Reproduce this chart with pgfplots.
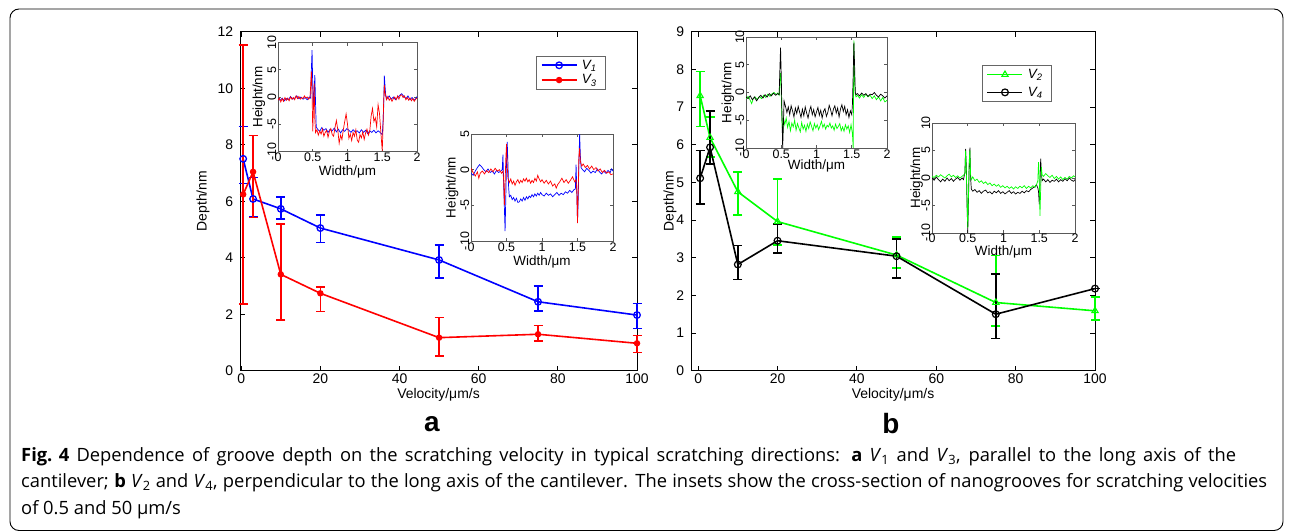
\documentclass[border=0pt]{standalone}
\usepackage{pgfplots}
\usepackage{pgfplotstable}
\pgfplotsset{compat=1.18}
\usepackage{fontspec}
\setmainfont{Liberation Sans}
\newfontfamily\capfont{Open Sans}

\pgfplotstableread{
x y ep em
0.5 7.50 1.15 0.87
3 6.08 0.76 0.64
10 5.73 0.41 0.37
20 5.05 0.47 0.51
50 3.92 0.54 0.63
75 2.44 0.55 0.32
100 1.97 0.41 0.47
}\vone
\pgfplotstableread{
x y ep em
0.5 6.24 5.28 3.88
3 7.04 1.28 1.62
10 3.41 1.78 1.62
20 2.74 0.22 0.65
50 1.17 0.71 0.64
75 1.29 0.31 0.24
100 0.97 0.28 0.32
}\vthree
\pgfplotstableread{
x y ep em
0.5 7.30 0.64 0.82
3 6.19 0.54 0.51
10 4.75 0.52 0.61
20 3.96 1.13 0.62
50 3.07 0.48 0.34
75 1.81 1.25 0.62
100 1.59 0.36 0.24
}\vtwo
\pgfplotstableread{
x y ep em
0.5 5.11 0.74 0.68
3 5.93 0.97 0.45
10 2.82 0.50 0.40
20 3.45 0.44 0.33
50 3.04 0.45 0.58
75 1.50 1.07 0.64
100 2.18 0 0
}\vfour

\pgfplotsset{
  mainax/.style={
    scale only axis, height=339bp,
    /pgf/number format/assume math mode=true,
    axis line style={line width=0.9bp},
    every tick/.style={black, line width=0.8bp},
    major tick length=5bp,
    tick align=inside,
    ticklabel style={font=\fontsize{14}{14}\selectfont},
    yticklabel style={xshift=-3.4bp},
    label style={font=\fontsize{14}{14}\selectfont},
    xlabel={Velocity/μm/s},
    ylabel={Depth/nm},
    xlabel style={at={(axis description cs:0.5,-0.0717)}, anchor=center},
    ymin=0, xmax=100,
    xtick={0,20,...,100},
    clip=false,
    legend image code/.code={\draw[mark repeat=2,mark phase=2,##1] plot coordinates {(0bp,0bp) (17.5bp,0bp) (35bp,0bp)};},
    legend cell align=left,
  },
  ebar/.style={error bars/.cd, y dir=both, y explicit,
    error bar style={line width=1.6bp},
    error mark options={rotate=90, line width=1.6bp, mark size=4.5bp}},
  inax/.style={
    scale only axis,
    /pgf/number format/assume math mode=true,
    axis background/.style={fill=white},
    axis line style={draw=black!65, line width=0.6bp},
    every tick/.style={black!65, line width=0.6bp},
    major tick length=3bp,
    tick align=inside,
    xmin=0, xmax=2, xtick={0,0.5,1,1.5,2},
    ticklabel style={font=\fontsize{12.5}{12.5}\selectfont, inner sep=1.5bp},
    yticklabel style={rotate=90, anchor=south},
    label style={font=\fontsize{13.5}{13.5}\selectfont},
    xlabel={Width/μm}, ylabel={Height/nm},
  },
  pr/.style={line width=0.7bp, no marks},
}

\begin{document}
\begin{tikzpicture}
\useasboundingbox (0bp,0bp) rectangle (1293bp,-532bp);
\draw[line width=0.9bp, rounded corners=9bp] (10bp,-9bp) rectangle (1283bp,-530.5bp);

% ---------------- panel a ----------------
\begin{axis}[mainax, at={(240bp,-370.7bp)}, anchor=south west, width=397bp,
  xmin=-0.3, ymax=12, ytick={0,2,...,12},
  ylabel style={at={(axis description cs:-0.0932,0.5)}, anchor=center},
  legend style={at={(axis description cs:0.7456,0.928)}, anchor=north west,
    draw=black!60, line width=0.6bp, font=\fontsize{13.5}{13.5}\selectfont,
    inner xsep=4.5bp, inner ysep=1.5bp, row sep=0bp,
    nodes={inner xsep=4.5bp, inner ysep=2bp}},
  ]
\addplot[blue, line width=1.6bp, mark=o, mark options={solid, line width=1.3bp, mark size=3.3bp}, ebar]
  table[x=x, y=y, y error plus=ep, y error minus=em] {\vone};
\addlegendentry{\textit{V\textsubscript{1}}}
\addplot[red, line width=1.6bp, mark=*, mark options={solid, mark size=2.4bp}, ebar]
  table[x=x, y=y, y error plus=ep, y error minus=em] {\vthree};
\addlegendentry{\textit{V\textsubscript{3}}}
\end{axis}

% inset a1
\begin{axis}[inax, at={(278bp,-42.5bp)}, anchor=north west, width=139bp, height=109bp,
  ymin=-10, ymax=10, ytick={-10,-5,0,5,10},
  ylabel style={at={(axis description cs:-0.137,0.5)}, anchor=center},
  xlabel style={at={(axis description cs:0.5,-0.183)}, anchor=center}]
\addplot[blue, pr] table {
0.00 -0.3
0.03 -0.6
0.06 -0.2
0.09 -0.7
0.12 -0.3
0.15 -0.5
0.18 0.1
0.21 -0.4
0.24 -0.2
0.27 0.2
0.30 -0.3
0.33 0.0
0.36 -0.4
0.39 -0.1
0.42 -0.5
0.45 0.0
0.47 -0.2
0.48 5.0
0.49 8.6
0.50 2.0
0.51 -2.0
0.52 1.0
0.53 4.0
0.54 -1.0
0.55 -5.5
0.57 -5.9
0.60 -6.3
0.63 -5.6
0.66 -6.1
0.69 -5.8
0.72 -6.5
0.75 -5.9
0.78 -6.2
0.81 -5.7
0.84 -6.4
0.87 -5.9
0.90 -6.6
0.93 -6.0
0.96 -6.3
0.99 -5.8
1.02 -6.1
1.05 -6.5
1.08 -6.0
1.11 -6.4
1.14 -6.2
1.17 -6.6
1.20 -6.0
1.23 -6.5
1.26 -6.1
1.29 -6.7
1.32 -6.2
1.35 -6.5
1.38 -6.1
1.41 -6.6
1.44 -6.2
1.47 -6.5
1.50 -6.9
1.51 -5.0
1.52 -2.0
1.53 3.9
1.54 2.0
1.55 0.3
1.57 -0.3
1.60 0.2
1.63 -0.4
1.66 0.0
1.69 -0.5
1.72 -0.1
1.75 0.3
1.78 0.6
1.81 0.1
1.84 -0.3
1.87 0.2
1.90 -0.5
1.93 -0.1
1.96 -0.6
1.99 -0.2
2.00 0.1
};
\addplot[red, pr] table {
0.00 -0.6
0.02 -0.2
0.04 -0.9
0.06 -0.3
0.08 -0.8
0.10 -0.1
0.12 -0.6
0.14 -0.2
0.16 -0.7
0.18 0.0
0.20 -0.4
0.22 -0.1
0.24 -0.5
0.26 0.2
0.28 -0.3
0.30 0.1
0.32 -0.4
0.34 -0.1
0.36 -0.3
0.38 0.2
0.40 -0.2
0.42 0.0
0.44 -0.4
0.46 -0.1
0.47 2.0
0.48 4.7
0.49 1.0
0.50 -6.3
0.51 -2.0
0.52 2.5
0.53 -4.0
0.54 -6.5
0.56 -6.0
0.58 -7.0
0.60 -6.2
0.62 -6.8
0.64 -5.9
0.66 -7.2
0.68 -6.5
0.70 -6.1
0.72 -7.4
0.74 -6.3
0.76 -5.8
0.78 -6.9
0.80 -7.2
0.82 -5.6
0.84 -4.3
0.86 -6.0
0.88 -8.5
0.90 -7.0
0.92 -7.8
0.94 -6.0
0.96 -4.5
0.98 -3.1
1.00 -5.0
1.02 -7.6
1.04 -6.8
1.06 -8.0
1.08 -6.5
1.10 -7.2
1.12 -6.0
1.14 -7.9
1.16 -8.3
1.18 -6.9
1.20 -7.5
1.22 -6.4
1.24 -7.8
1.26 -6.6
1.28 -5.9
1.30 -7.0
1.32 -6.3
1.34 -3.5
1.36 -2.1
1.38 -4.5
1.40 -3.8
1.42 -5.5
1.44 -1.4
1.46 -3.0
1.48 -6.5
1.50 -9.9
1.51 -6.0
1.52 -1.0
1.53 2.2
1.54 0.8
1.56 -0.5
1.58 0.1
1.60 -0.6
1.62 -0.2
1.64 -0.8
1.66 -0.3
1.68 0.0
1.70 -0.5
1.72 0.2
1.74 -0.4
1.76 0.3
1.78 0.4
1.80 -0.1
1.82 0.2
1.84 -0.5
1.86 -0.1
1.88 -0.6
1.90 -0.2
1.92 -0.7
1.94 -0.3
1.96 -0.8
1.98 -0.4
2.00 -0.2
};
\end{axis}

% inset a2
\begin{axis}[inax, at={(471bp,-134bp)}, anchor=north west, width=142bp, height=107bp,
  ymin=-10, ymax=5, ytick={-10,-5,0,5},
  ylabel style={at={(axis description cs:-0.132,0.5)}, anchor=center},
  xlabel style={at={(axis description cs:0.5,-0.193)}, anchor=center}]
\addplot[blue, pr] table {
0.00 -0.5
0.03 -0.8
0.06 -0.2
0.09 0.3
0.12 0.7
0.15 0.4
0.18 0.0
0.21 -0.3
0.24 0.1
0.27 -0.4
0.30 -0.2
0.33 -0.6
0.36 -0.1
0.39 -0.4
0.42 -0.2
0.44 0.0
0.45 2.1
0.46 -2.0
0.48 -8.6
0.49 -4.0
0.50 1.0
0.51 3.9
0.52 1.0
0.53 -2.5
0.54 -3.8
0.56 -3.6
0.58 -4.2
0.60 -3.9
0.62 -4.4
0.64 -4.0
0.66 -4.6
0.68 -4.5
0.70 -4.1
0.72 -4.4
0.74 -3.9
0.76 -4.3
0.78 -3.8
0.80 -4.1
0.82 -3.7
0.84 -3.9
0.86 -3.5
0.88 -3.8
0.90 -3.4
0.92 -3.7
0.94 -3.3
0.96 -3.6
0.98 -3.2
1.00 -3.5
1.03 -3.7
1.06 -3.3
1.09 -3.6
1.12 -3.4
1.15 -3.8
1.18 -3.5
1.21 -3.2
1.24 -3.6
1.27 -3.3
1.30 -3.5
1.33 -3.1
1.36 -3.3
1.39 -2.9
1.42 -3.2
1.45 -2.8
1.47 -2.7
1.48 0.7
1.49 -3.0
1.50 -7.4
1.51 -4.0
1.52 1.0
1.53 5.0
1.54 2.0
1.55 0.3
1.57 0.0
1.60 -0.3
1.63 0.2
1.66 -0.1
1.69 -0.5
1.72 -0.2
1.75 -0.4
1.78 0.1
1.81 -0.3
1.84 -0.6
1.87 -0.2
1.90 -0.5
1.93 -0.1
1.96 -0.4
1.98 0.1
2.00 -0.2
};
\addplot[red, pr] table {
0.00 0.2
0.03 -0.4
0.06 -0.9
0.09 -0.3
0.11 -1.2
0.13 -0.5
0.16 -0.2
0.19 -0.6
0.22 -0.1
0.25 -0.4
0.28 0.1
0.31 -0.3
0.34 0.2
0.37 -0.2
0.40 0.0
0.43 -0.5
0.45 -0.2
0.46 -1.5
0.47 -5.0
0.48 -2.0
0.49 1.5
0.50 3.6
0.51 0.5
0.52 -1.2
0.54 -1.8
0.56 -1.3
0.58 -2.0
0.60 -1.6
0.62 -2.2
0.64 -1.7
0.66 -1.4
0.68 -1.9
0.70 -1.5
0.72 -1.8
0.74 -1.3
0.76 -1.6
0.78 -1.2
0.80 -1.7
0.82 -1.4
0.84 -1.9
0.86 -1.5
0.88 -1.8
0.90 -1.2
0.92 -1.6
0.94 -0.8
0.96 -1.3
0.98 -1.7
1.00 -1.4
1.03 -1.9
1.06 -1.5
1.09 -2.0
1.12 -1.6
1.15 -2.3
1.18 -2.0
1.20 -2.6
1.22 -2.1
1.25 -1.7
1.28 -1.2
1.31 -1.8
1.34 -1.4
1.37 -1.9
1.40 -1.5
1.43 -1.0
1.46 -1.7
1.48 -1.4
1.49 -3.0
1.50 -7.5
1.51 -3.0
1.52 2.0
1.53 3.0
1.54 1.2
1.56 0.5
1.58 0.8
1.61 0.3
1.64 0.6
1.67 0.1
1.70 0.5
1.73 0.0
1.76 0.3
1.79 -0.2
1.82 0.1
1.85 -0.4
1.88 -0.1
1.91 -0.5
1.94 -0.3
1.97 -0.7
2.00 -0.6
};
\end{axis}

% ---------------- panel b ----------------
\begin{axis}[mainax, at={(691bp,-370.7bp)}, anchor=south west, width=404bp,
  xmin=-1.8, ymax=9, ytick={0,1,...,9},
  ylabel style={at={(axis description cs:-0.052,0.5)}, anchor=center},
  legend style={at={(axis description cs:0.720,0.902)}, anchor=north west,
    draw=black!60, line width=0.6bp, font=\fontsize{13.5}{13.5}\selectfont,
    inner xsep=4.5bp, inner ysep=2bp, row sep=3bp,
    nodes={inner xsep=4.5bp, inner ysep=2bp}},
  ]
\addplot[green, line width=1.6bp, mark=triangle, mark options={solid, line width=1.1bp, mark size=3.6bp}, ebar]
  table[x=x, y=y, y error plus=ep, y error minus=em] {\vtwo};
\addlegendentry{\textit{V\textsubscript{2}}}
\addplot[black, line width=1.6bp, mark=o, mark options={solid, line width=1.2bp, mark size=3.4bp}, ebar]
  table[x=x, y=y, y error plus=ep, y error minus=em] {\vfour};
\addlegendentry{\textit{V\textsubscript{4}}}
\end{axis}

% inset b1
\begin{axis}[inax, at={(746bp,-37bp)}, anchor=north west, width=141bp, height=111bp,
  ymin=-10, ymax=10, ytick={-10,-5,0,5,10},
  ylabel style={at={(axis description cs:-0.128,0.5)}, anchor=center},
  xlabel style={at={(axis description cs:0.5,-0.162)}, anchor=center}]
\addplot[green, pr] table {
0.00 -1.1
0.03 -0.7
0.06 -1.4
0.08 -2.0
0.10 -1.2
0.13 -0.8
0.16 -1.3
0.19 -0.7
0.22 -1.1
0.25 -0.5
0.28 -0.9
0.31 -0.3
0.34 -0.7
0.37 -0.2
0.40 0.0
0.43 -0.4
0.45 -0.1
0.47 -0.5
0.48 2.0
0.49 3.5
0.50 0.0
0.51 -5.0
0.52 -7.5
0.53 -4.5
0.55 -5.8
0.57 -4.6
0.59 -6.3
0.61 -5.2
0.63 -6.9
0.65 -5.5
0.67 -6.2
0.69 -5.0
0.71 -6.8
0.73 -5.6
0.75 -6.4
0.77 -7.1
0.79 -5.4
0.81 -6.6
0.83 -5.9
0.85 -7.0
0.87 -5.7
0.89 -6.5
0.91 -5.3
0.93 -6.1
0.95 -6.9
0.97 -5.6
0.99 -6.4
1.01 -5.8
1.03 -6.7
1.05 -6.0
1.07 -5.2
1.09 -6.3
1.11 -5.7
1.13 -6.6
1.15 -5.9
1.17 -6.2
1.19 -5.5
1.21 -6.4
1.23 -6.0
1.25 -6.8
1.27 -5.7
1.29 -6.5
1.31 -6.1
1.33 -5.6
1.35 -6.9
1.37 -6.2
1.39 -7.0
1.41 -5.8
1.43 -6.6
1.45 -6.0
1.47 -7.2
1.49 -5.8
1.51 -7.5
1.52 -10.0
1.53 9.4
1.54 2.0
1.55 -0.3
1.56 -0.8
1.58 -0.5
1.61 -1.0
1.64 -0.4
1.67 -0.9
1.70 -0.3
1.73 -0.8
1.76 -0.5
1.79 -1.1
1.82 -0.6
1.85 -1.3
1.88 -0.8
1.91 -1.5
1.94 -0.9
1.97 -1.7
2.00 -1.4
};
\addplot[black, pr] table {
0.00 -0.8
0.03 -1.1
0.06 -0.6
0.09 -1.3
0.12 -0.8
0.15 -1.5
0.18 -0.9
0.21 -0.5
0.24 -1.0
0.27 -0.4
0.30 -0.8
0.33 -0.2
0.36 -0.6
0.39 -0.1
0.42 -0.5
0.45 -0.2
0.47 -0.4
0.48 4.0
0.49 8.1
0.50 3.0
0.51 -4.0
0.52 -10.0
0.53 -6.0
0.54 -1.5
0.56 -2.5
0.58 -3.6
0.60 -2.6
0.62 -4.0
0.64 -2.4
0.66 -3.3
0.68 -4.4
0.70 -2.8
0.72 -3.8
0.74 -2.5
0.76 -3.5
0.78 -4.5
0.80 -3.0
0.82 -4.2
0.84 -2.6
0.86 -3.7
0.88 -4.6
0.90 -3.3
0.92 -2.5
0.94 -4.0
0.96 -3.1
0.98 -4.4
1.00 -3.5
1.02 -2.7
1.04 -4.1
1.06 -3.2
1.08 -4.6
1.10 -3.4
1.12 -2.9
1.14 -4.3
1.16 -3.6
1.18 -2.3
1.20 -3.1
1.22 -4.2
1.24 -3.0
1.26 -2.4
1.28 -3.7
1.30 -2.8
1.32 -4.4
1.34 -3.0
1.36 -2.2
1.38 -3.4
1.40 -2.5
1.42 -4.0
1.44 -3.1
1.46 -4.5
1.48 -3.3
1.50 -4.0
1.51 -2.0
1.52 3.0
1.53 9.0
1.54 5.0
1.55 0.0
1.56 -0.4
1.58 -0.2
1.61 -0.6
1.64 -0.1
1.67 -0.5
1.70 -0.2
1.73 -0.7
1.76 -0.3
1.79 -0.4
1.82 0.0
1.85 -0.5
1.88 -0.8
1.91 -0.3
1.94 -0.6
1.97 -1.0
2.00 -0.6
};
\end{axis}

% inset b2
\begin{axis}[inax, at={(932bp,-123bp)}, anchor=north west, width=143bp, height=110bp,
  ymin=-10, ymax=10, ytick={-10,-5,0,5,10},
  xticklabel style={inner sep=0.8bp},
  ylabel style={at={(axis description cs:-0.107,0.5)}, anchor=center},
  xlabel style={at={(axis description cs:0.5,-0.175)}, anchor=center}]
\addplot[black, pr] table {
0.00 0.0
0.03 -0.4
0.06 0.2
0.09 -0.3
0.12 -0.7
0.15 -0.2
0.18 -0.6
0.21 0.0
0.24 -0.5
0.27 -0.1
0.30 -0.6
0.33 -0.2
0.36 0.1
0.39 -0.4
0.42 0.0
0.44 -0.3
0.46 1.0
0.47 5.3
0.48 2.0
0.49 -5.0
0.50 -10.0
0.51 -4.0
0.52 2.0
0.53 5.5
0.54 0.0
0.55 -2.0
0.57 -2.4
0.60 -2.1
0.63 -2.6
0.66 -2.3
0.69 -2.8
0.72 -2.4
0.75 -2.2
0.78 -2.7
0.81 -2.5
0.84 -2.9
0.87 -2.4
0.90 -2.7
0.93 -2.3
0.96 -2.8
0.99 -2.5
1.02 -2.9
1.05 -2.6
1.08 -2.3
1.11 -2.8
1.14 -2.5
1.17 -2.9
1.20 -2.6
1.23 -2.8
1.26 -2.4
1.29 -2.7
1.32 -2.3
1.35 -2.5
1.38 -2.1
1.41 -1.8
1.44 -1.6
1.46 -1.2
1.48 -1.8
1.49 -2.5
1.50 -4.8
1.51 -1.0
1.52 3.5
1.53 1.0
1.54 -0.5
1.56 -0.2
1.59 -0.7
1.62 -0.3
1.65 -0.8
1.68 -0.4
1.71 -0.6
1.74 -0.2
1.77 -0.7
1.80 -0.3
1.83 -0.6
1.86 -0.1
1.89 -0.5
1.92 0.0
1.95 -0.4
1.98 -0.6
2.00 -0.3
};
\addplot[green, pr] table {
0.00 0.3
0.03 0.1
0.06 0.5
0.09 0.2
0.12 0.6
0.15 0.3
0.18 0.0
0.21 0.4
0.24 0.7
0.27 0.2
0.30 0.5
0.33 0.1
0.36 0.4
0.39 0.0
0.42 0.3
0.44 0.5
0.46 0.8
0.47 5.0
0.48 1.0
0.49 -4.0
0.50 -9.0
0.51 -3.0
0.52 3.0
0.53 5.0
0.54 0.5
0.55 -0.3
0.57 0.2
0.60 -0.5
0.63 -0.2
0.66 -0.8
0.69 -0.5
0.72 -1.0
0.75 -0.7
0.78 -1.2
0.81 -0.9
0.84 -1.4
0.87 -1.1
0.90 -1.5
0.93 -1.2
0.96 -1.7
0.99 -1.4
1.02 -1.8
1.05 -1.5
1.08 -1.9
1.11 -1.6
1.14 -2.0
1.17 -1.6
1.20 -1.9
1.23 -1.5
1.26 -1.8
1.29 -1.4
1.32 -1.9
1.35 -1.5
1.38 -1.8
1.41 -1.4
1.44 -1.7
1.46 -1.3
1.48 -0.5
1.49 2.9
1.50 0.0
1.51 -6.9
1.52 -2.0
1.53 2.0
1.54 0.6
1.56 0.3
1.59 0.8
1.62 0.4
1.65 0.1
1.68 0.5
1.71 -0.1
1.74 0.3
1.77 -0.2
1.80 0.2
1.83 -0.3
1.86 0.1
1.89 -0.2
1.92 0.3
1.95 0.0
1.98 0.4
2.00 0.2
};
\end{axis}

\node[font=\fontsize{28}{28}\selectfont\bfseries] at (432bp,-424bp) {a};
\node[font=\fontsize{28}{28}\selectfont\bfseries] at (891bp,-424bp) {b};

\node[anchor=base west, align=left, inner sep=0pt, font=\capfont\fontsize{18.4}{26.5}\selectfont]
 at (21bp,-514bp) {\makebox[1215bp][s]{\mbox{\textbf{Fig. 4}} Dependence of groove depth on the scratching velocity in typical scratching directions: \textbf{a} \textit{V}\textsubscript{1} and \textit{V}\textsubscript{3}, parallel to the long axis of the}\\
\makebox[1246bp][s]{cantilever; \textbf{b} \textit{V}\textsubscript{2} and \textit{V}\textsubscript{4}, perpendicular to the long axis of the cantilever. The insets show the cross-section of nanogrooves for scratching velocities}\\
of 0.5 and 50 μm/s};
\end{tikzpicture}
\end{document}
